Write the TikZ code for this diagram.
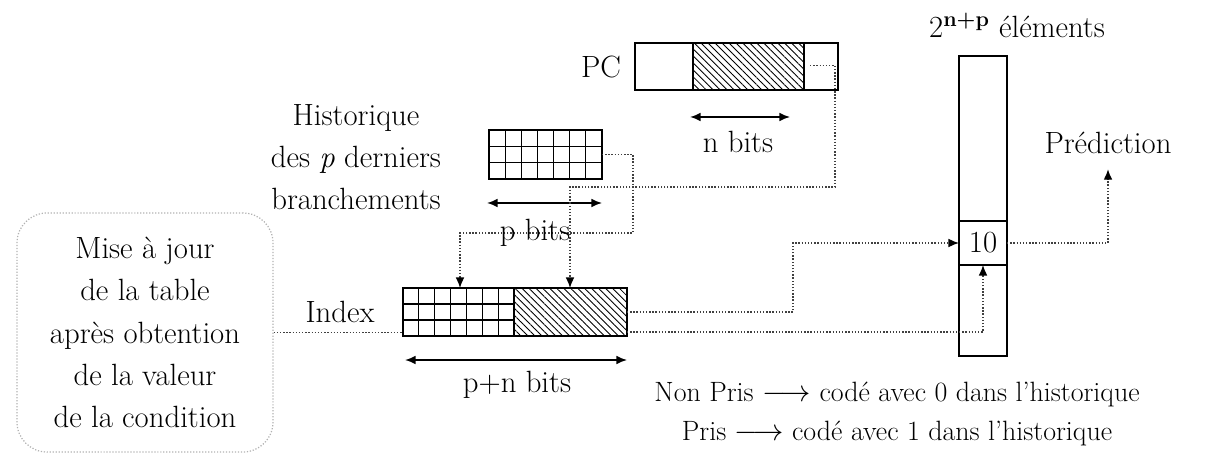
\documentclass[tikz,border=0pt]{standalone}
\usepackage{fontspec}
\usetikzlibrary{arrows.meta, positioning, calc, patterns.meta}

\def\pxu{0.02cm}

% grid of bits drawn inside a box node
\newcommand{\bitgrid}[1]{%
  \foreach \col in {1,...,6}
    \draw[line width=0.6pt] ($(#1.north west)!\col/7!(#1.north east)$) -- ($(#1.south west)!\col/7!(#1.south east)$);
  \foreach \row in {1,2}
    \draw[line width=0.6pt] ($(#1.north west)!\row/3!(#1.south west)$) -- ($(#1.north east)!\row/3!(#1.south east)$);
}

\begin{document}
\begin{tikzpicture}[
    x=\pxu, y=-\pxu,
    >={Latex[length=6pt, width=5pt, color=black]},
    bitbox/.style={
        draw, line width=0.9pt, inner sep=0pt, outer sep=0pt,
        minimum height=47*\pxu
    },
    hatchbox/.style={bitbox, pattern={Lines[angle=-45, distance=2.8pt, line width=0.5pt]}},
    lbl/.style={font=\fontsize{17.5}{24}\selectfont, align=center, inner sep=0pt},
    link/.style={draw=gray!50!black, densely dotted, line width=0.8pt},
    dimarr/.style={{Latex[length=6pt, width=5pt]}-{Latex[length=6pt, width=5pt]}, line width=1pt},
]
\useasboundingbox (0,0) rectangle (1219,462);

% ================================================================
%  PC REGISTER
% ================================================================
\node[bitbox, minimum width=58*\pxu] (pcA) at (664,66.5) {};
\node[hatchbox, minimum width=111*\pxu, right=0pt of pcA] (pcH) {};
\node[bitbox, minimum width=34*\pxu, right=0pt of pcH] (pcB) {};
\node[lbl] (pc) at (601,67) {PC};

\draw[dimarr] (690,117) -- (790,117);
\node[lbl] (nbits) at (738,142) {n bits};

% ================================================================
%  HISTORY OF THE LAST BRANCHES
% ================================================================
\node[bitbox, minimum width=113*\pxu, minimum height=49*\pxu] (hist) at (545.5,154.5) {};
\bitgrid{hist}
\node[lbl] (histlbl) at (356,157) {Historique\\des \textit{p} derniers\\branchements};

\draw[dimarr] (487,203) -- (602,203);

% ================================================================
%  INDEX = history . PC bits
% ================================================================
\node[bitbox, minimum width=111*\pxu, minimum height=48*\pxu] (idxG) at (458.5,312) {};
\bitgrid{idxG}
\node[hatchbox, minimum width=113*\pxu, minimum height=48*\pxu, right=0pt of idxG] (idxH) {};
\node[lbl] (index) at (340,312) {Index};

\draw[dimarr] (405,360) -- (627,360);
\node[lbl] (pnbits) at (517,385) {p+n bits};

% ================================================================
%  PREDICTION TABLE
% ================================================================
\node[bitbox, minimum width=48*\pxu, minimum height=300*\pxu] (tab) at (983,206) {};
\node[bitbox, minimum width=48*\pxu, minimum height=44*\pxu] (cell) at (983,243) {};
\node[lbl] at (cell) {10};
\node[lbl] (tablbl) at (1017,25) {2\textsuperscript{\textbf{n+p}} éléments};
\node[lbl] (pred) at (1108,143) {Prédiction};

% ================================================================
%  UPDATE BOX AND NOTE
% ================================================================
\node[lbl, draw=gray!60, densely dotted, line width=0.7pt, rounded corners=0.6cm,
      minimum width=256*\pxu, minimum height=239*\pxu] (maj) at (145,332.5)
    {Mise à jour\\de la table\\après obtention\\de la valeur\\de la condition};

\node[lbl, font=\fontsize{15.9}{22.5}\selectfont] (note) at (897,414)
    {Non Pris $\longrightarrow$ codé avec 0 dans l'historique\\
     Pris $\longrightarrow$ codé avec 1 dans l'historique};

% ================================================================
%  CONNECTIONS
% ================================================================
\coordinate (pcdrop) at (570,187);
\coordinate (hdrop) at (460,233);
\coordinate (jog) at (793,0);

\draw[link, ->] ($(pcB.west)+(6,-1)$) -- ($(pcB.east)+(-3,-1)$) |- (pcdrop) -- (pcdrop |- idxH.north);
\draw[link, ->] (hist.east) -- ++(31,0) |- (hdrop) -- (hdrop |- idxG.north);
\node[lbl] (pbits) at (535,233) {p bits};

\draw[link, ->] (idxH.east) -| (jog |- cell.west) -- (cell.west);
\draw[link, ->] ($(idxH.east)+(0,20)$) -| (cell.south);
\draw[link, ->] (cell.east) -| ($(pred.south)+(0,15)$);
\draw[link] (maj.east) -- (maj.east -| idxG.west);

\end{tikzpicture}
\end{document}
